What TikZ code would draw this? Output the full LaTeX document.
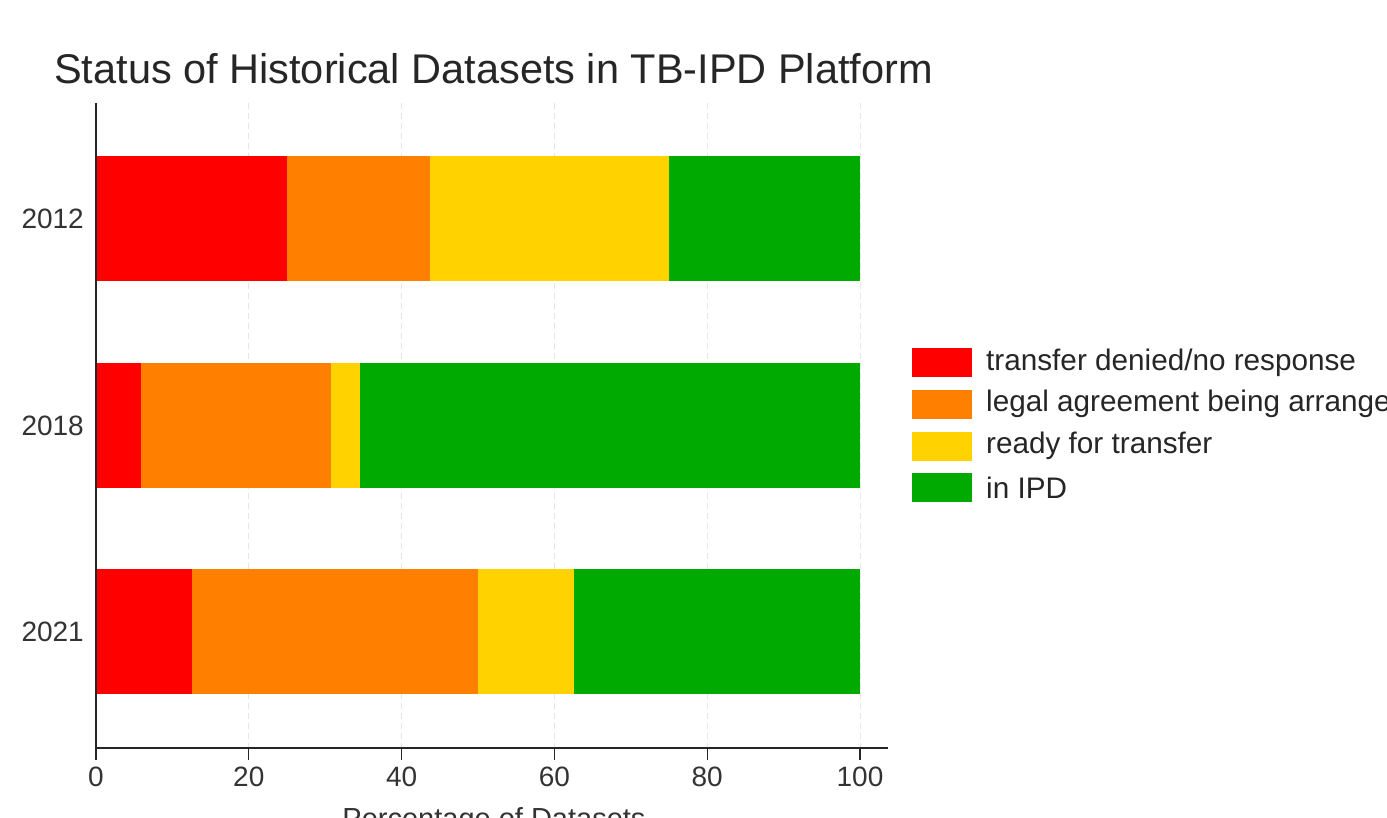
\documentclass[tikz,border=0pt]{standalone}
\usepackage{fontspec}
\setmainfont{Liberation Sans}
\definecolor{cred}{HTML}{FF0000}
\definecolor{corange}{HTML}{FF8000}
\definecolor{cyellow}{HTML}{FFD200}
\definecolor{cgreen}{HTML}{00AA00}
\definecolor{cgrid}{HTML}{E4E4EA}
\begin{document}
\begin{tikzpicture}[x=1pt,y=-1pt,
  gridline/.style={draw=cgrid,line width=1pt,dash pattern=on 6pt off 4pt},
  axisline/.style={draw=black!85,line width=1.3pt},
  ticklab/.style={font=\fontsize{28}{30}\selectfont,text=black!80,inner sep=0pt},
  leglab/.style={font=\fontsize{29.7}{32}\selectfont,text=black!85,anchor=west,inner sep=0pt},
  swatch/.style={minimum width=60pt,minimum height=29pt,inner sep=0pt,draw=none}]
\useasboundingbox (0,0) rectangle (1387,818);
\clip (0,0) rectangle (1387,818);
\fill[white] (0,0) rectangle (1387,818);
\coordinate (o) at (96,748);
% grid
\foreach \v in {20,40,60,80,100}{
  \draw[gridline] ({96+7.64*\v},103) -- ({96+7.64*\v},748);
}
% bars
\newcommand{\barrow}[5]{%
  \fill[cred]    (96,#1) rectangle ({96+7.64*#2},{#1+125});
  \fill[corange] ({96+7.64*#2},#1) rectangle ({96+7.64*#3},{#1+125});
  \fill[cyellow] ({96+7.64*#3},#1) rectangle ({96+7.64*#4},{#1+125});
  \fill[cgreen]  ({96+7.64*#4},#1) rectangle ({96+7.64*#5},{#1+125});
}
\barrow{156}{25}{43.75}{75}{100}
\barrow{363}{5.88}{30.8}{34.6}{100}
\barrow{569}{12.5}{50}{62.5}{100}
% axes
\draw[axisline] (96,103) -- (o) -- (888,748);
\foreach \v in {0,20,40,60,80,100}{
  \draw[axisline] ({96+7.64*\v},748) -- ({96+7.64*\v},760);
  \node[ticklab,anchor=north] (t\v) at ({96+7.64*\v},767) {\v};
}
% y labels
\node[ticklab,anchor=east] (y2012) at (84,219) {2012};
\node[ticklab,anchor=east] (y2018) at (84,426) {2018};
\node[ticklab,anchor=east] (y2021) at (84,632) {2021};
% axis title
\node[font=\fontsize{29}{31}\selectfont,text=black!80,inner sep=0pt,anchor=north] (xlab) at (494,807) {Percentage of Datasets};
% title
\node[font=\fontsize{41.5}{44}\selectfont,text=black!85,anchor=base west,inner sep=0pt] (title) at (54,84) {Status of Historical Datasets in TB-IPD Platform};
% legend
\node[swatch,fill=cred]    (s1) at (942,362.5) {};
\node[swatch,fill=corange] (s2) at (942,404) {};
\node[swatch,fill=cyellow] (s3) at (942,446) {};
\node[swatch,fill=cgreen]  (s4) at (942,487.5) {};
\node[leglab] (l1) at (986,362.5) {transfer denied/no response};
\node[leglab] (l2) at (986,404) {legal agreement being arranged};
\node[leglab] (l3) at (986,446) {ready for transfer};
\node[leglab] (l4) at (986,487.5) {in IPD};
\end{tikzpicture}
\end{document}
